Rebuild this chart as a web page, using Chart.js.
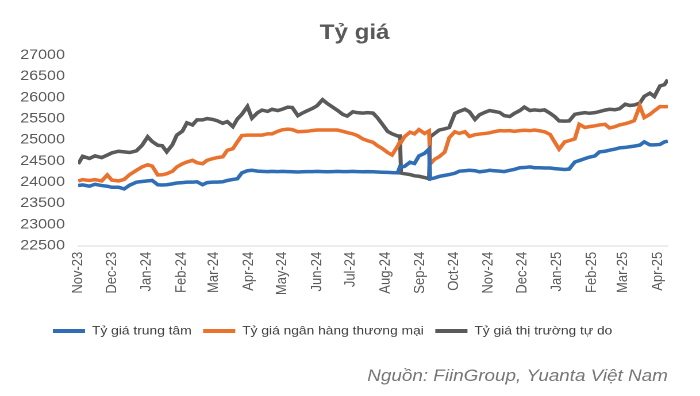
<!DOCTYPE html>
<html>
<head>
<meta charset="utf-8">
<script src="https://cdn.jsdelivr.net/npm/chart.js@4.4.1/dist/chart.umd.min.js"></script>
<style>
  html, body { margin: 0; padding: 0; background: #ffffff; }
  #c { display: block; }
</style>
</head>
<body>
<canvas id="c" width="609" height="396" style="width:700px;height:396px"></canvas>
<script>
// ---------------- DATA ----------------
const dates = [
  '2023-11-01','2023-11-05','2023-11-11','2023-11-16','2023-11-22','2023-11-27',
  '2023-12-01','2023-12-07','2023-12-12','2023-12-17','2023-12-23','2023-12-28',
  '2024-01-02','2024-01-06','2024-01-11','2024-01-15','2024-01-19','2024-01-24','2024-01-28',
  '2024-02-02','2024-02-06','2024-02-11','2024-02-15','2024-02-20','2024-02-24','2024-02-29',
  '2024-03-04','2024-03-09','2024-03-13','2024-03-18','2024-03-22','2024-03-26','2024-03-31',
  '2024-04-04','2024-04-09','2024-04-13','2024-04-18','2024-04-22','2024-04-27',
  '2024-05-01','2024-05-06','2024-05-10','2024-05-15','2024-05-19','2024-05-23','2024-05-28',
  '2024-06-01','2024-06-06','2024-06-10','2024-06-15','2024-06-19','2024-06-24','2024-06-28',
  '2024-07-03','2024-07-07','2024-07-12','2024-07-16','2024-07-21','2024-07-25','2024-07-29',
  '2024-08-03','2024-08-07','2024-08-12','2024-08-14','2024-08-15','2024-08-18','2024-08-23','2024-08-27','2024-08-31',
  '2024-09-05','2024-09-09','2024-09-10','2024-09-14','2024-09-18','2024-09-23','2024-09-27',
  '2024-10-02','2024-10-06','2024-10-11','2024-10-15','2024-10-20','2024-10-24','2024-10-29',
  '2024-11-02','2024-11-06','2024-11-11','2024-11-15','2024-11-20','2024-11-24','2024-11-29',
  '2024-12-03','2024-12-08','2024-12-12','2024-12-17','2024-12-21','2024-12-26','2024-12-30',
  '2025-01-03','2025-01-08','2025-01-12','2025-01-17','2025-01-21','2025-01-26','2025-01-30',
  '2025-02-04','2025-02-08','2025-02-13','2025-02-17','2025-02-22','2025-02-26',
  '2025-03-03','2025-03-07','2025-03-11','2025-03-16','2025-03-20','2025-03-25','2025-03-29',
  '2025-04-03','2025-04-07','2025-04-10'
];

// Tỷ giá trung tâm
const centralRate = [
  23920,23935,23905,23950,23920,23905,
  23880,23880,23840,23930,24000,24015,
  24030,24040,23940,23935,23940,23960,23980,
  23990,24000,24000,24010,23940,23990,24000,
  24000,24010,24040,24065,24080,24220,24270,
  24280,24260,24255,24250,24255,24250,
  24255,24250,24245,24240,24245,24250,24250,
  24255,24250,24245,24250,24255,24250,24250,
  24255,24250,24245,24250,24245,24240,24235,
  24230,24225,24220,24360,24360,24370,24470,24440,24620,
  24680,24780,24080,24100,24135,24160,24180,
  24210,24260,24270,24280,24270,24245,24260,
  24280,24270,24260,24250,24280,24300,24340,
  24345,24360,24340,24340,24335,24335,24320,
  24310,24300,24310,24475,24510,24555,24590,
  24620,24715,24730,24755,24780,24810,
  24820,24835,24850,24875,24950,24880,24880,
  24890,24950,24965
];

// Tỷ giá ngân hàng thương mại
const commercialRate = [
  24030,24060,24040,24060,24030,24170,
  24050,24030,24065,24180,24280,24360,
  24410,24380,24170,24175,24200,24255,24360,
  24435,24475,24515,24460,24435,24515,24555,
  24580,24600,24750,24790,24950,25100,25110,
  25110,25110,25110,25140,25140,25200,
  25235,25250,25240,25190,25195,25200,25220,
  25230,25230,25230,25230,25230,25200,25170,
  25140,25100,25020,24980,24940,24860,24800,
  24700,24640,24850,24950,24940,25070,25180,25140,25240,
  25150,25210,24430,24540,24600,24710,25050,
  25190,25150,25190,25080,25120,25135,25150,
  25165,25190,25215,25210,25215,25200,25215,
  25225,25215,25230,25210,25190,25125,24950,
  24780,24950,24980,25020,25365,25290,25310,
  25330,25350,25365,25280,25310,25350,
  25380,25410,25450,25800,25525,25600,25685,
  25785,25780,25785
];

// Tỷ giá thị trường tự do
const freeMarketRate = [
  24430,24610,24560,24620,24580,24640,
  24690,24730,24715,24700,24740,24870,
  25070,24960,24870,24860,24715,24880,25110,
  25205,25400,25350,25470,25470,25500,25480,
  25450,25390,25430,25310,25490,25600,25785,
  25510,25640,25700,25670,25720,25690,
  25720,25770,25760,25570,25630,25680,25740,
  25800,25945,25860,25770,25700,25600,25560,
  25660,25640,25630,25640,25630,25520,25380,
  25200,25140,25090,25090,24215,24200,24180,24150,24140,
  24110,24080,25070,25150,25230,25260,25290,
  25620,25670,25720,25660,25480,25590,25650,
  25690,25670,25645,25570,25550,25620,25690,
  25770,25690,25705,25690,25705,25625,25550,
  25445,25440,25445,25600,25620,25640,25625,
  25640,25665,25700,25720,25710,25735,
  25840,25810,25820,25865,26025,26100,26020,
  26270,26300,26420
];

const seriesNames = ['Tỷ giá trung tâm', 'Tỷ giá ngân hàng thương mại', 'Tỷ giá thị trường tự do'];
const tickDates = ['2023-11-01','2023-12-01','2024-01-01','2024-02-01','2024-03-01','2024-04-01',
  '2024-05-01','2024-06-01','2024-07-01','2024-08-01','2024-09-01','2024-10-01','2024-11-01',
  '2024-12-01','2025-01-01','2025-02-01','2025-03-01','2025-04-01'];
const tickLabels = ['Nov-23','Dec-23','Jan-24','Feb-24','Mar-24','Apr-24','May-24','Jun-24','Jul-24',
  'Aug-24','Sep-24','Oct-24','Nov-24','Dec-24','Jan-25','Feb-25','Mar-25','Apr-25'];
const yMin = 22500, yMax = 27000, yStep = 500;
const titleText = 'Tỷ giá';
const sourceText = 'Nguồn: FiinGroup, Yuanta Việt Nam';

// ---------------- HELPERS ----------------
const DAY = 86400000;
const ORIGIN = Date.UTC(2023, 10, 1);
function toDay(s) {
  const p = s.split('-').map(Number);
  return Math.round((Date.UTC(p[0], p[1] - 1, p[2]) - ORIGIN) / DAY);
}
const xDays = dates.map(toDay);
const tickPos = tickDates.map(toDay);
function pts(values) { return values.map((v, i) => ({ x: xDays[i], y: v })); }

const FONT = "'Liberation Sans', Arial, sans-serif";
const colors = ['#2f6eb5', '#e9722f', '#5a5a5a'];
const seriesData = [centralRate, commercialRate, freeMarketRate];

new Chart(document.getElementById('c'), {
  type: 'line',
  data: {
    datasets: seriesData.map((vals, i) => ({
      label: seriesNames[i],
      data: pts(vals),
      borderColor: colors[i],
      backgroundColor: colors[i],
      borderWidth: 3.5,
      pointRadius: 0,
      tension: 0,
      fill: false
    }))
  },
  options: {
    responsive: false,
    animation: false,
    devicePixelRatio: 2,
    layout: { padding: { left: 36, right: 28, top: 0, bottom: 0 } },
    plugins: {
      tooltip: { enabled: false },
      title: {
        display: true,
        text: titleText,
        color: '#595959',
        font: { family: FONT, size: 21, weight: 'bold' },
        padding: { top: 20.4, bottom: 9.4 }
      },
      subtitle: {
        display: true,
        text: sourceText,
        position: 'bottom',
        align: 'end',
        color: '#767676',
        font: { family: FONT, size: 16.4, style: 'italic' },
        padding: { top: 19.5, bottom: 9.8 }
      },
      legend: {
        position: 'bottom',
        align: 'start',
        labels: {
          boxWidth: 28,
          boxHeight: 4,
          padding: 10,
          color: '#404040',
          font: { family: FONT, size: 12 },
          generateLabels: (chart) =>
            Chart.defaults.plugins.legend.labels.generateLabels(chart).map(l => Object.assign(l, { lineWidth: 0 }))
        }
      }
    },
    scales: {
      x: {
        type: 'linear',
        min: 0,
        max: xDays[xDays.length - 1],
        grid: { display: false, drawTicks: false },
        border: { display: true, color: '#d9d9d9', width: 1 },
        afterBuildTicks: (scale) => { scale.ticks = tickPos.map(v => ({ value: v })); },
        afterFit: (scale) => { scale.height = 69.25; },
        ticks: {
          autoSkip: false,
          maxRotation: 90,
          minRotation: 90,
          padding: 6,
          color: '#595959',
          font: { family: FONT, size: 13 },
          callback: (v) => { const i = tickPos.indexOf(v); return i >= 0 ? tickLabels[i] : ''; }
        }
      },
      y: {
        min: yMin,
        max: yMax,
        grid: { display: false, drawTicks: false },
        border: { display: false },
        afterFit: (scale) => {
          scale.width = 32;
          // let the tick labels extend past the narrow axis box (no clipping)
          scale._computeLabelArea = () => null;
        },
        ticks: {
          stepSize: yStep,
          padding: 11.5,
          color: '#595959',
          font: { family: FONT, size: 14 },
          callback: (v) => String(v)
        }
      }
    }
  }
});
</script>
</body>
</html>
